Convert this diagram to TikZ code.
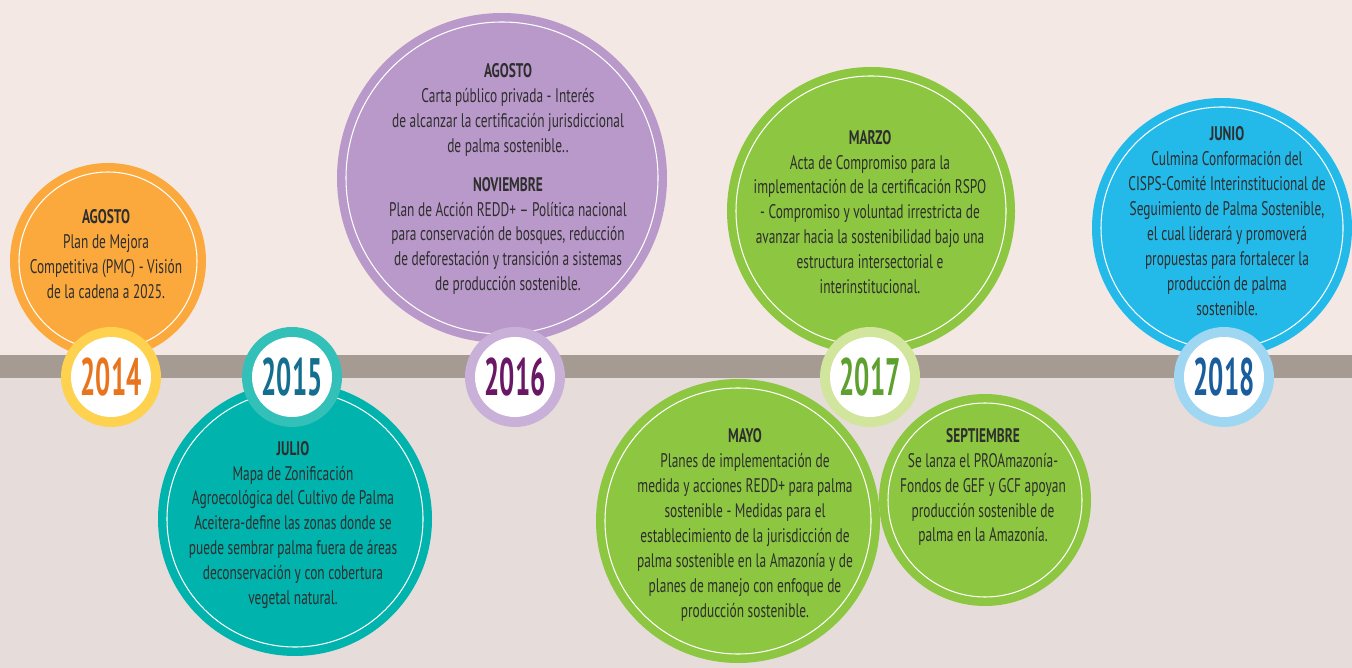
\documentclass[tikz,border=0pt]{standalone}
\usepackage{fontspec}
\setmainfont{PT Sans}[FakeStretch=0.68]
\newfontfamily\yearfont{PT Sans}[FakeStretch=0.51]
\usepackage{tikz}

\definecolor{bgtop}{HTML}{F3E8E4}
\definecolor{bgbot}{HTML}{E6DCDA}
\definecolor{band}{HTML}{A69B93}
\definecolor{ink}{HTML}{2E2E2E}
\definecolor{orange14}{HTML}{FBA93C}
\definecolor{ring14}{HTML}{FED14E}
\definecolor{yr14}{HTML}{E8751E}
\definecolor{teal15}{HTML}{00B3AC}
\definecolor{ring15}{HTML}{33C0B9}
\definecolor{yr15}{HTML}{146E8E}
\definecolor{purple16}{HTML}{B999C9}
\definecolor{ring16}{HTML}{C9B0D8}
\definecolor{yr16}{HTML}{6A1766}
\definecolor{green17}{HTML}{8DC641}
\definecolor{ring17}{HTML}{D2E59D}
\definecolor{yr17}{HTML}{5DA030}
\definecolor{blue18}{HTML}{23BAEA}
\definecolor{ring18}{HTML}{9FD7F3}
\definecolor{yr18}{HTML}{1A5D9C}

\tikzset{
  evtext/.style={text=ink, align=center, inner sep=0pt,
    font=\fontsize{11.2}{14.2}\selectfont},
  yeartext/.style={inner sep=0pt, font=\yearfont\bfseries\fontsize{30}{30}\selectfont},
}

\begin{document}
\begin{tikzpicture}[x=0.02cm, y=-0.02cm]
  \useasboundingbox (0,0) rectangle (1352,668);

  % Background and timeline band
  \fill[bgtop] (0,0) rectangle (1352,366);
  \fill[bgbot] (0,366) rectangle (1352,668);
  \fill[band] (0,355) rectangle (1352,378);

  % Event discs
  \foreach \name/\pos/\r/\col in {E14/{108,261}/98/orange14,
      E15/{295,519}/137/teal15, E16/{502,178}/165/purple16,
      E17a/{871,211}/144/green17, E17b/{738,521}/142/green17,
      E17c/{985,500}/106/green17, E18/{1222,228}/130/blue18}{
    \coordinate (\name) at (\pos);
    \fill[\col] (\name) circle (\r);
    \draw[white, line width=0.6pt] (\name) circle ({\r-9});
  }

  % Event texts
  \node[evtext] (T14) at (106,254) {\textbf{AGOSTO}\\Plan de Mejora\\
    Competitiva (PMC) - Visión\\de la cadena a 2025.};
  \node[evtext] (T15) at (293,525) {\textbf{JULIO}\\Mapa de Zonificación\\
    Agroecológica del Cultivo de Palma\\Aceitera-define las zonas donde se\\
    puede sembrar palma fuera de áreas\\deconservación y con cobertura\\
    vegetal natural.};
  \node[evtext] (T16) at (508,179) {\textbf{AGOSTO}\\Carta público privada - Interés\\
    de alcanzar la certificación jurisdiccional\\de palma sostenible..\\[8pt]
    \textbf{NOVIEMBRE}\\Plan de Acción REDD+ – Política nacional\\
    para conservación de bosques, reducción\\de deforestación y transición a sistemas\\
    de producción sostenible.};
  \node[evtext] (T17a) at (870,212) {\textbf{MARZO}\\Acta de Compromiso para la\\
    implementación de la certificación RSPO\\- Compromiso y voluntad irrestricta de\\
    avanzar hacia la sostenibilidad bajo una\\estructura intersectorial e\\
    interinstitucional.};
  \node[evtext] (T17b) at (745,525) {\textbf{MAYO}\\Planes de implementación de\\
    medida y acciones REDD+ para palma\\sostenible - Medidas para el\\
    establecimiento de la jurisdicción de\\palma sostenible en la Amazonía y de\\
    planes de manejo con enfoque de\\producción sostenible.};
  \node[evtext] (T17c) at (983,487) {\textbf{SEPTIEMBRE}\\Se lanza el PROAmazonía-\\
    Fondos de GEF y GCF apoyan\\producción sostenible de\\palma en la Amazonía.};
  \node[evtext] (T18) at (1227,221) {\textbf{JUNIO}\\Culmina Conformación del\\
    CISPS-Comité Interinstitucional de\\Seguimiento de Palma Sostenible,\\
    el cual liderará y promoverá\\propuestas para fortalecer la\\
    producción de palma\\sostenible.};

  % Year badges on the band
  \foreach \yr/\pos/\ring/\col in {2014/{111,377}/ring14/yr14,
      2015/{292,377}/ring15/yr15, 2016/{515,377}/ring16/yr16,
      2017/{870,377}/ring17/yr17, 2018/{1224,377}/ring18/yr18}{
    \coordinate (C\yr) at (\pos);
    \fill[\ring] (C\yr) circle (50);
    \fill[white] (C\yr) circle (40);
    \node[yeartext, text=\col] (Y\yr) at (C\yr) {\yr};
  }
\end{tikzpicture}
\end{document}
